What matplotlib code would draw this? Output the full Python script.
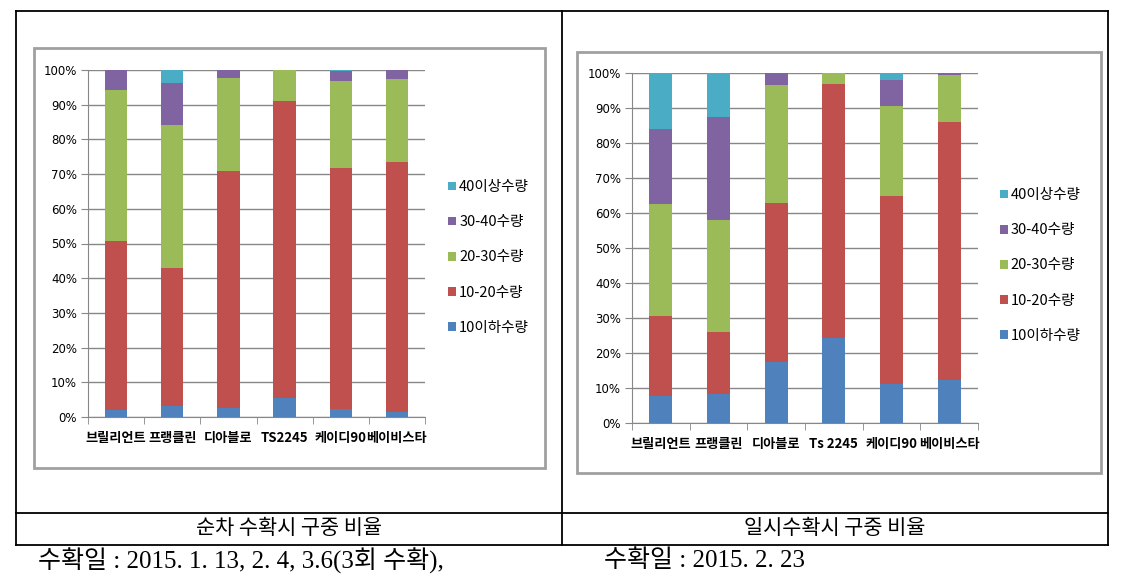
import matplotlib
matplotlib.use("Agg")
import matplotlib.pyplot as plt
from matplotlib.patches import Rectangle, Patch
from matplotlib.lines import Line2D
import numpy as np

plt.rcParams['font.family'] = ['Noto Sans CJK KR', 'DejaVu Sans']

series = ['10이하수량', '10-20수량', '20-30수량', '30-40수량', '40이상수량']
colors = ['#4F81BD', '#C0504D', '#9BBB59', '#8064A2', '#4BACC6']

left_cats = ['브릴리언트', '프랭클린', '디아블로', 'TS2245', '케이디90', '베이비스타']
left_vals = {
    '10이하수량': [2.0, 3.1, 2.7, 5.6, 2.3, 1.4],
    '10-20수량': [48.8, 39.9, 68.2, 85.5, 69.5, 72.0],
    '20-30수량': [43.4, 41.1, 26.7, 8.9, 25.1, 24.0],
    '30-40수량': [5.8, 12.1, 2.4, 0.0, 2.8, 2.6],
    '40이상수량': [0.0, 3.8, 0.0, 0.0, 0.3, 0.0],
}

right_cats = ['브릴리언트', '프랭클린', '디아블로', 'Ts 2245', '케이디90', '베이비스타']
right_vals = {
    '10이하수량': [7.6, 8.4, 17.4, 24.3, 11.1, 12.2],
    '10-20수량': [22.9, 17.6, 45.6, 72.6, 53.9, 73.8],
    '20-30수량': [32.2, 32.1, 33.5, 3.1, 25.5, 13.3],
    '30-40수량': [21.4, 29.2, 3.5, 0.0, 7.4, 0.7],
    '40이상수량': [15.9, 12.7, 0.0, 0.0, 2.1, 0.0],
}

left_caption = '순차 수확시 구중 비율'
right_caption = '일시수확시 구중 비율'
left_note = '수확일 : 2015. 1. 13, 2. 4, 3.6(3회 수확),'
right_note = '수확일 : 2015. 2. 23'

W, H = 1132, 579
fig = plt.figure(figsize=(W / 100, H / 100), dpi=100)

def fx(x):
    return x / W

def fy(y):
    return 1 - y / H

# table lines
tl = dict(color='black', lw=1.3, transform=fig.transFigure)
for (x0, y0, x1, y1) in [(16, 11, 1108, 11), (16, 513, 1108, 513), (16, 545, 1108, 545),
                         (16, 11, 16, 545), (562, 11, 562, 545), (1108, 11, 1108, 545)]:
    fig.add_artist(Line2D([fx(x0), fx(x1)], [fy(y0), fy(y1)], **tl))

# chart frames
for (x0, y0, x1, y1) in [(34, 48, 545, 468), (577, 52, 1101, 473)]:
    fig.add_artist(Rectangle((fx(x0), fy(y1)), fx(x1) - fx(x0), fy(y0) - fy(y1),
                             transform=fig.transFigure, fill=False,
                             edgecolor='#A0A0A0', lw=2.0))

def draw(ax, cats, vals, leg_anchor, label_pad):
    x = np.arange(len(cats))
    bottom = np.zeros(len(cats))
    handles = []
    for s, c in zip(series, colors):
        v = np.array(vals[s])
        ax.bar(x, v, 0.4, bottom=bottom, color=c, zorder=3, linewidth=0)
        bottom += v
        handles.append(Patch(facecolor=c, label=s))
    ax.set_xlim(-0.5, len(cats) - 0.5)
    ax.set_ylim(0, 100)
    ax.set_yticks(np.arange(0, 101, 10))
    ax.set_yticklabels([f'{t}%' for t in range(0, 101, 10)], fontsize=8.5,
                       family=['DejaVu Sans'])
    ax.yaxis.grid(True, color='#878787', lw=1.0, zorder=0)
    ax.set_xticks(x)
    ax.set_xticklabels(cats, fontsize=9.5, fontweight='bold')
    ax.set_xticks(np.arange(-0.5, len(cats), 1.0), minor=True)
    ax.tick_params(axis='x', which='major', length=0, pad=label_pad)
    ax.tick_params(axis='x', which='minor', length=5, color='#878787', direction='out')
    ax.tick_params(axis='y', length=5, color='#878787', direction='out', pad=3)
    for sp in ['top', 'right']:
        ax.spines[sp].set_visible(False)
    for sp in ['left', 'bottom']:
        ax.spines[sp].set_color('#878787')
    ax.legend(handles=handles[::-1], loc='center left', bbox_to_anchor=leg_anchor,
              frameon=False, fontsize=10.5, handlelength=0.55, handleheight=0.55,
              handletextpad=0.2, labelspacing=1.45)
    return ax

axL = fig.add_axes([fx(88), fy(417), fx(425) - fx(88), fy(70) - fy(417)])
draw(axL, left_cats, left_vals, (1.03, 0.46), 10)

axR = fig.add_axes([fx(632), fy(423), fx(978) - fx(632), fy(73) - fy(423)])
draw(axR, right_cats, right_vals, (1.025, 0.45), 10)

fig.text(fx(289), fy(528), left_caption, ha='center', va='center', fontsize=15)
fig.text(fx(835), fy(528), right_caption, ha='center', va='center', fontsize=15)
fig.text(fx(38), fy(561), left_note, ha='left', va='center', fontsize=18,
         family=['Liberation Serif', 'Noto Sans CJK KR'])
fig.text(fx(604), fy(561), right_note, ha='left', va='center', fontsize=18,
         family=['Liberation Serif', 'Noto Sans CJK KR'])

fig.savefig('out.png', dpi=100)
